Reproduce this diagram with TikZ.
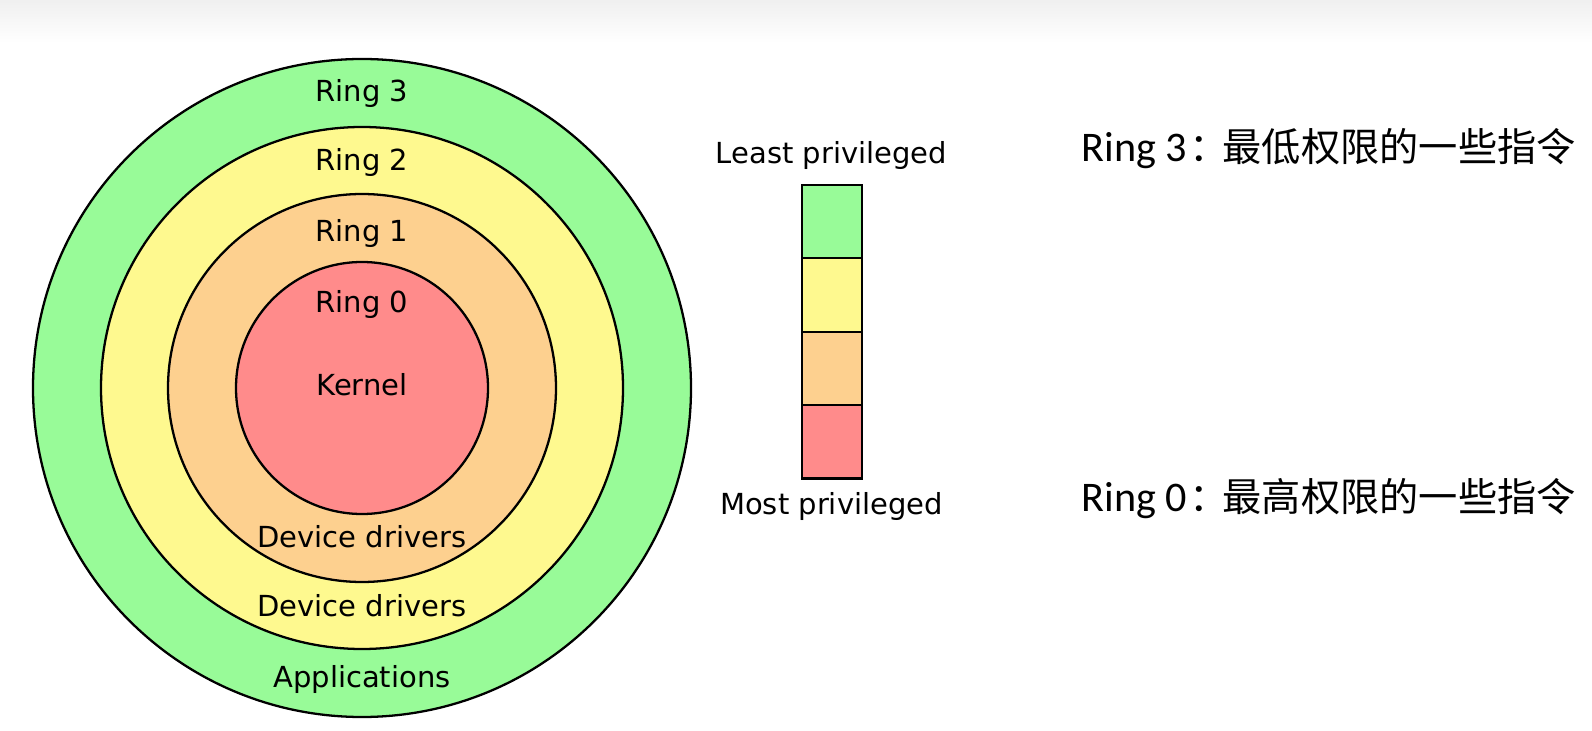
\documentclass[tikz,border=0pt]{standalone}
\usepackage{fontspec}
\setmainfont{DejaVu Sans}
\newfontfamily\notelatin{Carlito}
\newfontfamily\cjk[Scale=0.93]{Noto Sans CJK SC}
\usepackage{tikz}
\usetikzlibrary{positioning, calc}
\definecolor{ringthree}{HTML}{98FB98}
\definecolor{ringtwo}{HTML}{FEF98F}
\definecolor{ringone}{HTML}{FDD08F}
\definecolor{ringzero}{HTML}{FF8B8B}

\begin{document}
\begin{tikzpicture}[
  edge/.style={draw=black, line width=1.3pt},
  lbl/.style={font=\fontsize{16.5}{18}\selectfont, inner sep=0pt, anchor=base},
  block/.style={edge, minimum width=1.19cm, minimum height=1.467cm, inner sep=0pt, outer sep=0pt},
  note/.style={font=\fontsize{24}{28}\selectfont, inner sep=0pt, anchor=base west}]
  \useasboundingbox (0,0) rectangle (31.84,14.6);
  \shade[top color=black!6, bottom color=white] (0,13.75) rectangle (31.84,14.6);

  % rings, outside in
  \coordinate (ctr) at (7.24,6.84);
  \draw[edge, fill=ringthree] (ctr) circle (6.58);
  \draw[edge, fill=ringtwo] (ctr) circle (5.22);
  \draw[edge, fill=ringone] (ctr) circle (3.88);
  \draw[edge, fill=ringzero] (ctr) circle (2.52);
  \node[lbl] (r3) at (7.24,12.57) {Ring 3};
  \node[lbl] (r2) at (7.24,11.19) {Ring 2};
  \node[lbl] (r1) at (7.24,9.76) {Ring 1};
  \node[lbl] (r0) at (7.24,8.35) {Ring 0};
  \node[lbl] (kern) at (7.24,6.69) {Kernel};
  \node[lbl] (drv1) at (7.24,3.65) {Device drivers};
  \node[lbl] (drv2) at (7.24,2.27) {Device drivers};
  \node[lbl] (apps) at (7.24,0.85) {Applications};

  % privilege scale
  \node[block, fill=ringthree] (b3) at (16.64,10.167) {};
  \node[block, fill=ringtwo, below=0pt of b3] (b2) {};
  \node[block, fill=ringone, below=0pt of b2] (b1) {};
  \node[block, fill=ringzero, below=0pt of b1] (b0) {};
  \node[lbl] (least) at (16.63,11.32) {Least privileged};
  \node[lbl] (most) at (16.63,4.32) {Most privileged};

  \node[note] (n3) at (21.63,11.37) {\notelatin Ring 3\cjk\kern0.05em ：\kern-0.15em 最低权限的一些指令};
  \node[note] (n0) at (21.63,4.37) {\notelatin Ring 0\cjk\kern0.05em ：\kern-0.15em 最高权限的一些指令};
\end{tikzpicture}
\end{document}
